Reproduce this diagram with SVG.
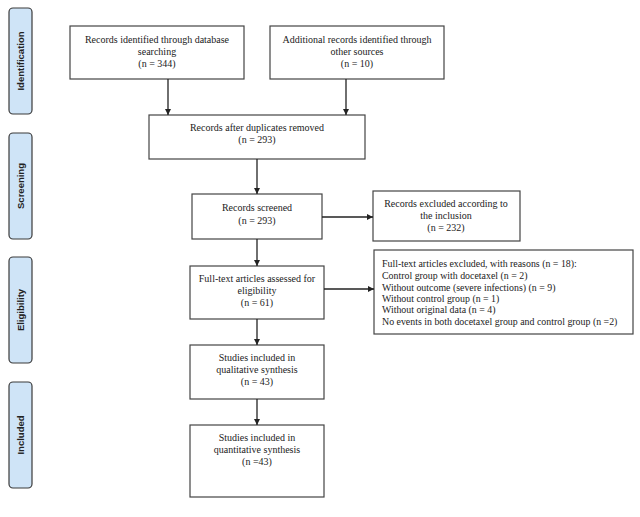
<svg xmlns="http://www.w3.org/2000/svg" width="640" height="517" viewBox="0 0 640 517">
<style>
.box{fill:#fff;stroke:#444;stroke-width:1.2}
.side{fill:#cfe4f7;stroke:#3a3a3a;stroke-width:1.2}
.t{font-family:"Liberation Serif","Times New Roman",serif;font-size:10px;fill:#222;text-anchor:middle}
.tl{font-family:"Liberation Serif","Times New Roman",serif;font-size:9.9px;fill:#222}
.s{font-family:"Liberation Sans",Arial,sans-serif;font-size:9.5px;font-weight:bold;fill:#222;text-anchor:middle}
.c{stroke:#222;stroke-width:1.3;fill:none;marker-end:url(#ah)}
</style>
<defs>
<marker id="ah" viewBox="0 0 10 10" refX="10" refY="5" markerWidth="6" markerHeight="6" markerUnits="userSpaceOnUse" orient="auto">
<path d="M0,0 L10,5 L0,10 z" fill="#222"/>
</marker>
</defs>
<rect width="640" height="517" fill="#fff"/>
<g id="side-identification"><rect class="side" x="9" y="8" width="23" height="106" rx="4"/><text class="s" transform="translate(24,61) rotate(-90)">Identification</text></g>
<g id="side-screening"><rect class="side" x="9" y="133" width="23" height="106" rx="4"/><text class="s" transform="translate(24,186) rotate(-90)">Screening</text></g>
<g id="side-eligibility"><rect class="side" x="9" y="257" width="23" height="106" rx="4"/><text class="s" transform="translate(24,310) rotate(-90)">Eligibility</text></g>
<g id="side-included"><rect class="side" x="9" y="382" width="23" height="106" rx="4"/><text class="s" transform="translate(24,435) rotate(-90)">Included</text></g>

<g id="db"><rect class="box" x="70" y="26" width="174" height="53"/>
<text class="t" x="157" y="43">Records identified through database</text>
<text class="t" x="157" y="55">searching</text>
<text class="t" x="157" y="67">(n = 344)</text></g>
<g id="other"><rect class="box" x="270" y="26" width="174" height="53"/>
<text class="t" x="357" y="43">Additional records identified through</text>
<text class="t" x="357" y="55">other sources</text>
<text class="t" x="357" y="67">(n = 10)</text></g>
<g id="dup"><rect class="box" x="149" y="115" width="216" height="44"/>
<text class="t" x="257" y="131">Records after duplicates removed</text>
<text class="t" x="257" y="143">(n = 293)</text></g>
<g id="screened"><rect class="box" x="192" y="194" width="130" height="45"/>
<text class="t" x="257" y="211">Records screened</text>
<text class="t" x="257" y="224">(n = 293)</text></g>
<g id="excl1"><rect class="box" x="373" y="191" width="147" height="50"/>
<text class="t" x="446" y="207">Records excluded according to</text>
<text class="t" x="446" y="219">the inclusion</text>
<text class="t" x="446" y="231">(n = 232)</text></g>
<g id="fulltext"><rect class="box" x="190" y="266" width="134" height="53"/>
<text class="t" x="257" y="282">Full-text articles assessed for</text>
<text class="t" x="257" y="294">eligibility</text>
<text class="t" x="257" y="306">(n = 61)</text></g>
<g id="excl2"><rect class="box" x="374" y="250" width="259" height="84"/>
<text class="tl" x="382" y="267">Full-text articles excluded, with reasons (n = 18):</text>
<text class="tl" x="382" y="279">Control group with docetaxel (n = 2)</text>
<text class="tl" x="382" y="291">Without outcome (severe infections) (n = 9)</text>
<text class="tl" x="382" y="302">Without control group (n = 1)</text>
<text class="tl" x="382" y="313">Without original data (n = 4)</text>
<text class="tl" x="382" y="325">No events in both docetaxel group and control group (n =2)</text></g>
<g id="qual"><rect class="box" x="190" y="345" width="134" height="54"/>
<text class="t" x="257" y="361">Studies included in</text>
<text class="t" x="257" y="373">qualitative synthesis</text>
<text class="t" x="257" y="385">(n = 43)</text></g>
<g id="quant"><rect class="box" x="190" y="425" width="134" height="72"/>
<text class="t" x="257" y="441">Studies included in</text>
<text class="t" x="257" y="453">quantitative synthesis</text>
<text class="t" x="257" y="465">(n =43)</text></g>

<g id="connectors">
<line class="c" x1="168" y1="79" x2="168" y2="115"/>
<line class="c" x1="346" y1="79" x2="346" y2="115"/>
<line class="c" x1="257" y1="159" x2="257" y2="194"/>
<line class="c" x1="257" y1="239" x2="257" y2="266"/>
<line class="c" x1="257" y1="319" x2="257" y2="345"/>
<line class="c" x1="257" y1="399" x2="257" y2="425"/>
<line class="c" x1="322" y1="217" x2="373" y2="217"/>
<line class="c" x1="324" y1="289" x2="374" y2="289"/>
</g>
</svg>
